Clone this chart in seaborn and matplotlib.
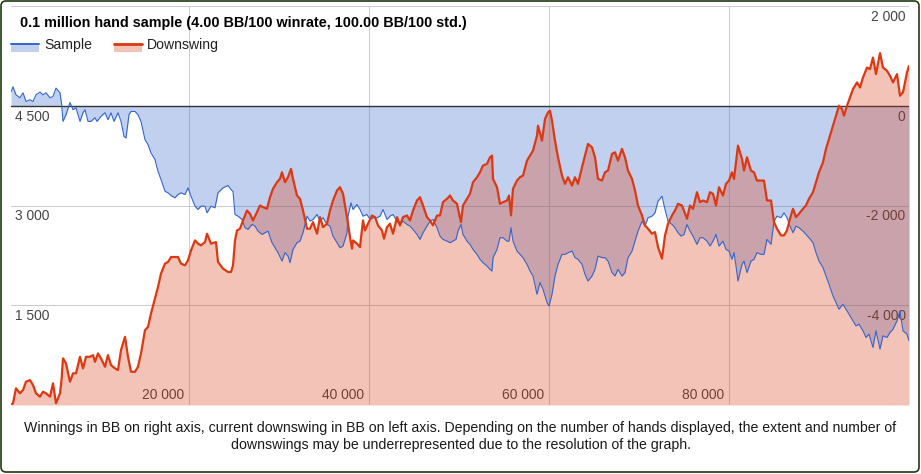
import numpy as np
import pandas as pd
import matplotlib
matplotlib.use("Agg")
import matplotlib.pyplot as plt
import matplotlib.transforms as mtransforms
from matplotlib.patches import Rectangle, FancyBboxPatch
from matplotlib.lines import Line2D
import seaborn as sns

# ---------------- data ----------------
sample_hands = [
    222, 444, 778, 1222, 1556, 1889, 2333, 2667, 3000, 3444, 3778, 4111, 4556, 4889, 5222, 5667, 5833,
    6000, 6333, 6778, 7111, 7444, 7889, 8222, 8444, 8778, 9111, 9556, 9778, 10222, 10667, 11000, 11333,
    11667, 12111, 12444, 12778, 13000, 13333, 13556, 14000, 14333, 14667, 15111, 15444, 15778, 16222,
    16556, 16889, 17333, 17667, 18000, 18444, 18778, 19111, 19556, 19889, 20222, 20667, 21000, 21333,
    21778, 22000, 22444, 22889, 23222, 23778, 24333, 24667, 24889, 25111, 25444, 25889, 26222, 26556,
    27000, 27333, 27667, 28111, 28444, 28778, 29222, 29556, 29889, 30333, 30667, 31000, 31222, 31556,
    32000, 32333, 32667, 33111, 33444, 33778, 34222, 34556, 34889, 35333, 35667, 36000, 36444, 36778,
    37111, 37556, 37667, 38000, 38222, 38667, 39000, 39333, 39778, 40111, 40444, 40889, 41222, 41556,
    42000, 42333, 42667, 43111, 43444, 43778, 44222, 44556, 44889, 45333, 45667, 46000, 46444, 46778,
    47111, 47556, 47889, 48222, 48667, 49000, 49333, 49667, 49889, 50222, 50444, 50889, 51222, 51556,
    52000, 52333, 52667, 53111, 53444, 53667, 53778, 54222, 54556, 54889, 55333, 55556, 55778, 56000,
    56444, 56778, 57111, 57556, 57889, 58222, 58667, 59000, 59333, 59778, 60000, 60333, 60667, 61000,
    61444, 61778, 62111, 62556, 62889, 63222, 63667, 64000, 64333, 64778, 65111, 65444, 65889, 66222,
    66556, 67000, 67333, 67667, 68111, 68444, 68778, 69222, 69556, 69889, 70333, 70667, 71000, 71444,
    71778, 72111, 72556, 72889, 73222, 73667, 74000, 74333, 74667, 75000, 75333, 75667, 76000, 76444,
    76778, 77111, 77556, 77889, 78222, 78556, 78889, 79333, 79667, 80000, 80333, 80556, 80778, 81000,
    81444, 81667, 82000, 82444, 82778, 83111, 83556, 83889, 84222, 84667, 85000, 85333, 85778, 86111,
    86444, 86778, 87111, 87444, 87778, 88222, 88556, 88889, 89333, 89667, 90000, 90444, 90778, 91111,
    91556, 91889, 92222, 92667, 93000, 93333, 93778, 94111, 94444, 94889, 95222, 95556, 96000, 96333,
    96778, 97111, 97556, 97889, 98222, 98667, 99000, 99333, 99778, 100000,
]
sample_bb = [
    280, 380, 220, 160, 260, 86, 120, 86, 220, 274, 220, 260, 160, 186, 354, 260, 54,
    -314, -180, 66, -80, -40, -314, -140, -80, -314, -314, -240, -314, -214, -140, -280, -140,
    -314, -140, -314, -614, -646, -180, -114, -114, -180, -314, -680, -780, -946, -1080,
    -1314, -1480, -1714, -1746, -1800, -1846, -1780, -1746, -1780, -1646, -1814, -2014, -2080, -2014,
    -2014, -2146, -2014, -2046, -1746, -1646, -1600, -1680, -1720, -2180, -2214, -2280, -2446, -2480,
    -2380, -2414, -2514, -2580, -2546, -2514, -2746, -2846, -2946, -3114, -2946, -3014, -3146, -2880,
    -2746, -2714, -2546, -2214, -2314, -2280, -2180, -2314, -2246, -2380, -2414, -2614, -2746, -2846,
    -2814, -2546, -2214, -1946, -2080, -1980, -2080, -2214, -2180, -2280, -2246, -2246, -2214, -2080,
    -2280, -2214, -2180, -2314, -2380, -2314, -2380, -2414, -2480, -2580, -2680, -2546, -2414, -2314,
    -2280, -2446, -2614, -2680, -2714, -2746, -2714, -2680, -2514, -2380, -2580, -2714, -2780, -2880,
    -2980, -3080, -3146, -3214, -3280, -3314, -3046, -2880, -2646, -2646, -2714, -2714, -2446, -2714,
    -2914, -2980, -3046, -3180, -3314, -3414, -3780, -3546, -3680, -3946, -4014, -3780, -3414, -3180,
    -2980, -2980, -2946, -2914, -3046, -3080, -3180, -3380, -3514, -3414, -3280, -3014, -3046, -3046,
    -3114, -3346, -3414, -3280, -3414, -3346, -3046, -2914, -2714, -2514, -2314, -2414, -2246, -2214,
    -2146, -1914, -1814, -2080, -2314, -2380, -2446, -2546, -2614, -2580, -2380, -2514, -2614, -2780,
    -2646, -2646, -2714, -2814, -2714, -2580, -2814, -2714, -2880, -2914, -3080, -2946, -3214, -3514,
    -3180, -3114, -3346, -3114, -3080, -2946, -2980, -2980, -2680, -2780, -2314, -2214, -2246, -2146,
    -2246, -2414, -2546, -2414, -2446, -2514, -2580, -2646, -2746, -2946, -3114, -3246, -3414, -3580,
    -3814, -3946, -4080, -3980, -4080, -4180, -4314, -4414, -4380, -4514, -4646, -4580, -4846, -4514,
    -4880, -4614, -4646, -4546, -4480, -4314, -4114, -4514, -4580, -4714,
]
downswing_hands = [
    222, 444, 778, 1222, 1556, 1889, 2333, 2667, 3000, 3444, 3778, 4111, 4556, 4889, 5222, 5667, 5833,
    6000, 6333, 6778, 7111, 7444, 7889, 8222, 8556, 9000, 9333, 9556, 9889, 10222, 10667, 11000, 11333,
    11778, 12111, 12444, 12889, 13222, 13556, 14000, 14333, 14667, 15111, 15444, 15778, 16222, 16556,
    16889, 17333, 17667, 18000, 18444, 18778, 19111, 19556, 19889, 20222, 20667, 21000, 21333, 21778,
    22000, 22444, 23000, 23222, 23778, 24333, 24667, 24889, 25111, 25333, 25667, 26000, 26444, 26778,
    27111, 27556, 27889, 28222, 28667, 29000, 29333, 29778, 30111, 30333, 30667, 31000, 31333, 31556,
    32000, 32333, 32667, 33111, 33444, 33778, 34222, 34556, 34889, 35333, 35667, 36000, 36444, 36778,
    37111, 37556, 37889, 38111, 38222, 38667, 39000, 39333, 39556, 39889, 40333, 40667, 41000, 41444,
    41667, 42000, 42333, 42667, 43111, 43444, 43778, 44222, 44556, 44889, 45333, 45667, 46000, 46444,
    46778, 47111, 47556, 47889, 48222, 48667, 49000, 49333, 49778, 49889, 50222, 50444, 50889, 51222,
    51556, 52000, 52333, 52667, 53111, 53444, 53667, 53778, 54222, 54556, 54889, 55333, 55556, 55778,
    56000, 56444, 56778, 57111, 57556, 57889, 58222, 58667, 58778, 59222, 59556, 59889, 60111, 60333,
    60667, 61000, 61444, 61778, 62111, 62556, 62889, 63222, 63667, 64000, 64333, 64778, 65111, 65444,
    65889, 66222, 66556, 67000, 67333, 67667, 68111, 68444, 68778, 69222, 69556, 69889, 70333, 70667,
    71000, 71444, 71778, 72111, 72556, 72889, 73222, 73667, 74000, 74333, 74778, 75333, 75667, 76000,
    76444, 76778, 77111, 77556, 77889, 78222, 78556, 78889, 79333, 79667, 80000, 80333, 80556, 80778,
    81000, 81444, 81667, 82000, 82444, 82778, 83111, 83556, 83889, 84222, 84667, 85000, 85333, 85778,
    86111, 86444, 86778, 87111, 87444, 87778, 88222, 88556, 88889, 89333, 89667, 90000, 90444, 90778,
    91111, 91556, 91889, 92222, 92556, 92778, 93111, 93444, 93778, 94222, 94556, 94889, 95333, 95667,
    96000, 96333, 96778, 97111, 97556, 97889, 98222, 98667, 99000, 99333, 99778, 100000,
]
downswing_bb = [
    0, 26, 251, 176, 225, 350, 375, 300, 176, 125, 200, 176, 125, 326, 26, 176, 375,
    701, 626, 350, 476, 476, 725, 551, 725, 725, 750, 650, 776, 701, 575, 750, 600,
    551, 525, 825, 1025, 725, 500, 500, 575, 776, 1125, 1175, 1376, 1601, 1775,
    1976, 2126, 2150, 2225, 2225, 2225, 2126, 2100, 2175, 2325, 2475, 2426, 2400, 2450,
    2576, 2426, 2450, 2150, 2051, 2000, 2000, 2100, 2475, 2625, 2651, 2775, 2925, 2876,
    2775, 2900, 3000, 2975, 2951, 3125, 3251, 3350, 3401, 3500, 3350, 3425, 3551, 3401,
    3150, 3101, 2925, 2651, 2651, 2750, 2576, 2825, 2675, 2726, 2925, 3075, 3225, 3275,
    3176, 2825, 2525, 2351, 2475, 2426, 2375, 2775, 2625, 2726, 2850, 2825, 2700, 2625,
    2501, 2675, 2726, 2576, 2825, 2700, 2825, 2850, 2775, 2925, 3075, 3125, 3000, 2825,
    2775, 2700, 2850, 2850, 3050, 3101, 3150, 3075, 3026, 2951, 2750, 3000, 3101, 3176,
    3350, 3425, 3500, 3600, 3626, 3725, 3750, 3401, 3275, 3026, 3050, 3075, 3150, 2850,
    3251, 3375, 3425, 3450, 3675, 3750, 3825, 4050, 4200, 3975, 4301, 4400, 4425, 4275,
    3975, 3725, 3450, 3326, 3425, 3300, 3425, 3326, 3575, 3750, 3926, 3875, 3725, 3401,
    3375, 3500, 3525, 3776, 3800, 3675, 3851, 3725, 3525, 3401, 3225, 3000, 2850, 2700,
    2651, 2576, 2600, 2375, 2201, 2550, 2726, 2850, 2925, 3026, 3000, 2801, 3000, 2951,
    3200, 3050, 3075, 3050, 3200, 3176, 3000, 3275, 3150, 3326, 3375, 3500, 3401, 3650,
    3900, 3701, 3525, 3725, 3525, 3500, 3375, 3375, 3375, 3075, 3075, 2750, 2651, 2550,
    2550, 2625, 2801, 2951, 2825, 2876, 2951, 3000, 3101, 3200, 3350, 3500, 3650, 3851,
    4001, 4200, 4350, 4500, 4451, 4350, 4500, 4625, 4751, 4850, 4775, 4925, 5075, 5051,
    5225, 4976, 5291, 5075, 5025, 4950, 4850, 4976, 4650, 4701, 5000, 5100,
]
x_ticks = [20000, 40000, 60000, 80000]
left_ticks = [1500, 3000, 4500]        # downswing axis (left)
right_ticks = [2000, 0, -2000, -4000]  # winnings axis (right)

title = "0.1 million hand sample (4.00 BB/100 winrate, 100.00 BB/100 std.)"
legend_labels = ["Sample", "Downswing"]
caption = ["Winnings in BB on right axis, current downswing in BB on left axis. Depending on the number of hands displayed, the extent and number of",
           "downswings may be underrepresented due to the resolution of the graph."]

# ---------------- styling ----------------
BLUE = "#3366cc"
RED = "#dc3912"
W, H = 921, 474
sns.set_theme(style="white")
plt.rcParams["font.family"] = ["Liberation Sans", "DejaVu Sans"]

def fmt(v):
    return f"{v:,}".replace(",", " ")

def pt(pxsize):
    return pxsize * 72 / 100

fig = plt.figure(figsize=(W / 100, H / 100), dpi=100)
fig.patch.set_facecolor("white")
L, R, T, B = 11, 909, 6, 405
ax = fig.add_axes([L / W, 1 - B / H, (R - L) / W, (B - T) / H])
ax2 = ax.twinx()

df_s = pd.DataFrame({"hands": sample_hands, "bb": sample_bb})
df_d = pd.DataFrame({"hands": downswing_hands, "bb": downswing_bb})

ax.set_xticks(x_ticks + [100000])
ax.set_yticks([-6000, -4000, -2000, 0, 2000])
ax.grid(True, color="#cccccc", linewidth=0.75, zorder=0)
ax.set_axisbelow(True)
ax.tick_params(length=0, labelbottom=False, labelleft=False, labelright=False)
for a in (ax, ax2):
    for s in a.spines.values():
        s.set_visible(False)

# areas first (winnings on the base axes, downswing on the twin)
ax.fill_between(df_s["hands"], df_s["bb"], 0, color=BLUE, alpha=0.3, linewidth=0, zorder=2)
ax.axhline(0, color="#333333", linewidth=1.0, zorder=4)
ax2.fill_between(df_d["hands"], df_d["bb"], 0, color=RED, alpha=0.3, linewidth=0, zorder=1)

# winnings line: drawn by seaborn on the base axes, then lifted above the red area
sns.lineplot(data=df_s, x="hands", y="bb", ax=ax, color=BLUE, linewidth=0.8, estimator=None)
blue_line = ax.lines[-1]
blue_line.remove()
blue_line.set_zorder(2)
ax2.add_artist(blue_line)

sns.lineplot(data=df_d, x="hands", y="bb", ax=ax2, color=RED, linewidth=1.6, estimator=None, zorder=3)

for a in (ax, ax2):
    a.set_xlabel("")
    a.set_ylabel("")
ax.set_xlim(222, 100000)
ax.set_ylim(-6000, 2000)
ax2.set_ylim(0, 6000)
ax2.set_yticks([])
ax2.grid(False)

# tick labels (inside plot)
TICK_C = "#444444"
TFS = pt(13.7)
for v in left_ticks:
    tr = mtransforms.offset_copy(ax2.get_yaxis_transform(), fig=fig, x=4, y=-11, units="dots")
    ax2.text(0, v, fmt(v), transform=tr, ha="left", va="center", fontsize=TFS, color=TICK_C)
for v in right_ticks:
    tr = mtransforms.offset_copy(ax.get_yaxis_transform(), fig=fig, x=-3.5, y=-11, units="dots")
    ax.text(1, v, fmt(v), transform=tr, ha="right", va="center", fontsize=TFS, color=TICK_C)
for v in x_ticks:
    tr = mtransforms.offset_copy(ax.get_xaxis_transform(), fig=fig, x=-5, y=10, units="dots")
    ax.text(v, 0, fmt(v), transform=tr, ha="right", va="center", fontsize=TFS, color=TICK_C)

# title
fig.text(20 / W, 1 - 22.5 / H, title, ha="left", va="center", fontsize=pt(14.4),
         fontweight="bold", color="#000000")

# legend
ident = mtransforms.IdentityTransform()
for i, (lab, col) in enumerate(zip(legend_labels, [BLUE, RED])):
    x0 = 11 + i * 103
    fig.add_artist(Rectangle((x0, H - 52), 28, 9, transform=ident, facecolor=col, alpha=0.3, edgecolor="none"))
    fig.add_artist(Line2D([x0, x0 + 28], [H - 43.5, H - 43.5], transform=ident, color=col,
                          linewidth=1.4 if i == 0 else 2.0))
    fig.text((x0 + 33) / W, 1 - 45 / H, lab, ha="left", va="center", fontsize=pt(14), color="#222222")

# caption
for j, line in enumerate(caption):
    fig.text(460.5 / W, 1 - (428 + 17 * j) / H, line, ha="center", va="center",
             fontsize=pt(14.1), color="#1a1a1a")

# outer rounded frame
fig.add_artist(FancyBboxPatch((1, 2), 918, 471, boxstyle="round,pad=0,rounding_size=5",
                              transform=ident, facecolor="none", edgecolor="#1e3a0e", linewidth=1.2))

fig.savefig("out.png", dpi=100)
